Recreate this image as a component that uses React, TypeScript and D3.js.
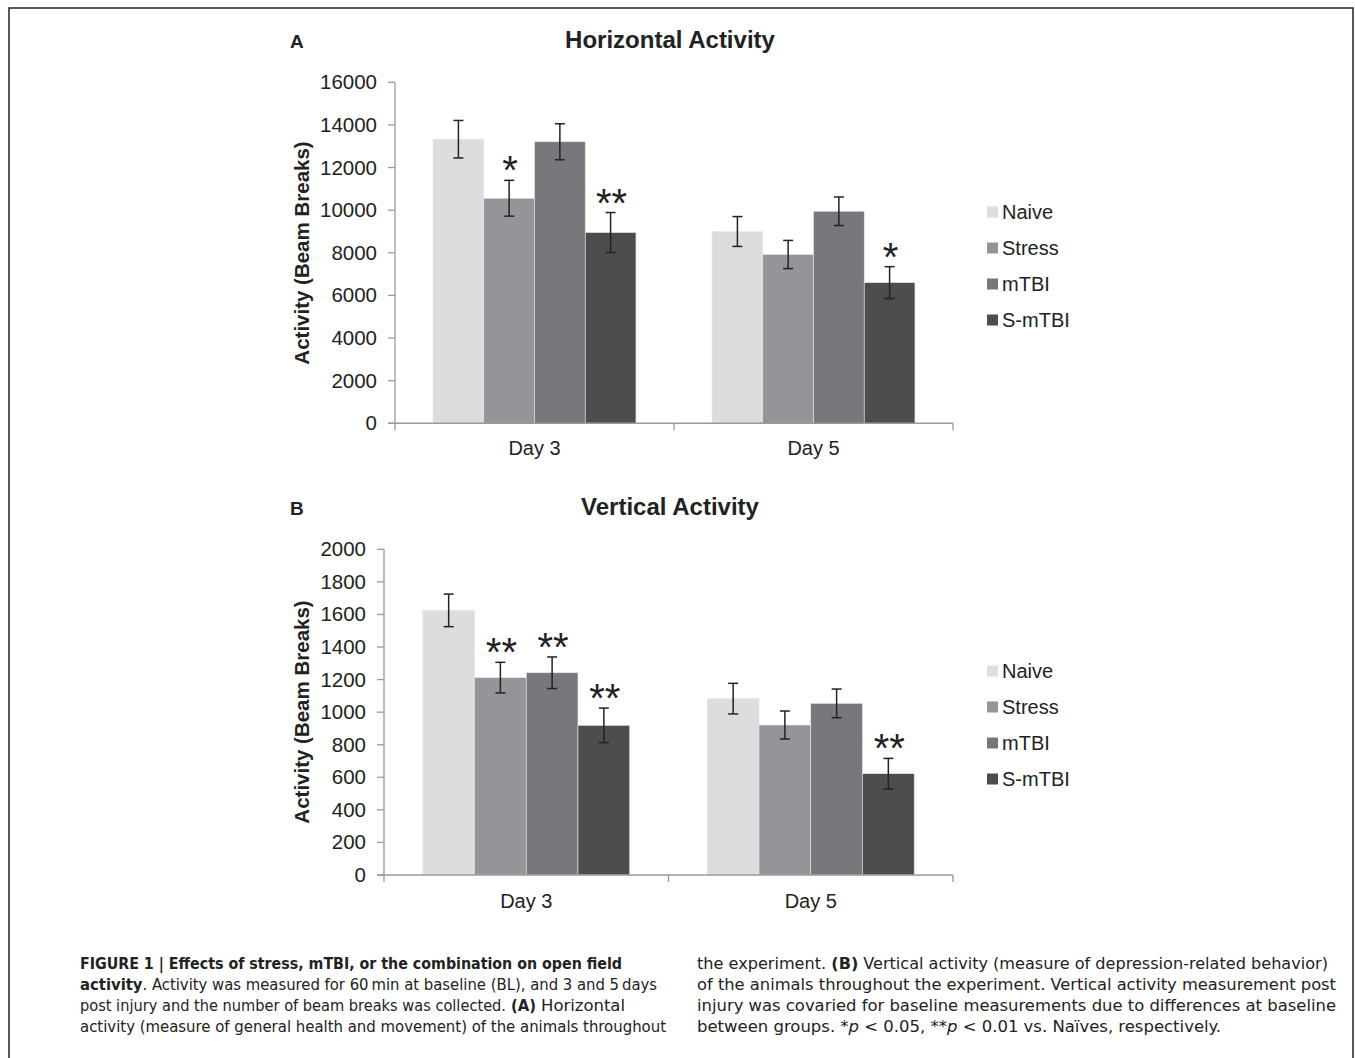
import React from 'react';
import * as d3 from 'd3';

// groups and days
const days = ['Day 3', 'Day 5'];
const groups = ['Naive', 'Stress', 'mTBI', 'S-mTBI'];
const groupColors = ['#dcdddf', '#939598', '#77787b', '#4c4d4f'];

// Horizontal activity (beam breaks), rows = days, cols = groups
const horizMeans = [
  [13330, 10560, 13210, 8950],
  [9000, 7920, 9950, 6600],
];
const horizErrs = [
  [880, 840, 845, 940],
  [700, 660, 670, 750],
];
const horizStars = [
  ['', '*', '', '**'],
  ['', '', '', '*'],
];
const horizTicks = [0, 2000, 4000, 6000, 8000, 10000, 12000, 14000, 16000];

// Vertical activity
const vertMeans = [
  [1625, 1212, 1242, 919],
  [1083, 921, 1054, 622],
];
const vertErrs = [
  [100, 94, 97, 106],
  [94, 86, 88, 94],
];
const vertStars = [
  ['', '**', '**', '**'],
  ['', '', '', '**'],
];
const vertTicks = [0, 200, 400, 600, 800, 1000, 1200, 1400, 1600, 1800, 2000];

const FONT = '"Liberation Sans", Arial, Helvetica, sans-serif';
const CAPFONT = '"Liberation Sans Narrow", "DejaVu Sans Condensed", "Liberation Sans", sans-serif';

function Panel({ letter, title, means, errs, stars, ticks, geo }) {
  const y = d3.scaleLinear().domain([0, ticks[ticks.length - 1]]).range([geo.y0, geo.yMax]);
  const xDay = d3.scaleBand().domain(days).range([geo.left, geo.right]).padding(0);
  const xGroup = d3.scaleBand().domain(groups).range([0, xDay.bandwidth()])
    .paddingInner(0).paddingOuter(0.75);
  const color = d3.scaleOrdinal().domain(groups).range(groupColors);
  const axisColor = '#9a9a9a';
  const cap = 5;

  return (
    <g>
      <text x={290} y={geo.titleY} fontFamily={FONT} fontWeight="bold" fontSize={19} fill="#222">{letter}</text>
      <text x={670} y={geo.titleY} textAnchor="middle" fontFamily={FONT} fontWeight="bold" fontSize={24} fill="#222">{title}</text>

      {/* y label */}
      <text transform={`translate(309,${geo.labelCy}) rotate(-90)`} textAnchor="middle"
        fontFamily={FONT} fontWeight="bold" fontSize={20.5} fill="#222">Activity (Beam Breaks)</text>

      {/* bars */}
      {days.map((day, di) => (
        <g key={day} transform={`translate(${xDay(day)},0)`}>
          {groups.map((g, gi) => {
            const v = means[di][gi];
            const e = errs[di][gi];
            const cx = xGroup(g) + xGroup.bandwidth() / 2;
            return (
              <g key={g}>
                <rect x={xGroup(g)} y={y(v)} width={xGroup.bandwidth()} height={y(0) - y(v)}
                  fill={color(g)} stroke="#e6e6e6" strokeWidth={0.6} />
                <g stroke="#222" strokeWidth={1.5}>
                  <line x1={cx} x2={cx} y1={y(v + e)} y2={y(v - e)} />
                  <line x1={cx - cap} x2={cx + cap} y1={y(v + e)} y2={y(v + e)} />
                  <line x1={cx - cap} x2={cx + cap} y1={y(v - e)} y2={y(v - e)} />
                </g>
                {stars[di][gi] && (
                  <text x={cx + 1} y={y(v + e) + 4} textAnchor="middle" fontFamily={FONT}
                    fontSize={40} fill="#222">{stars[di][gi]}</text>
                )}
              </g>
            );
          })}
        </g>
      ))}

      {/* y axis */}
      <line x1={geo.left} x2={geo.left} y1={geo.yMax} y2={geo.y0} stroke={axisColor} strokeWidth={1.3} />
      {ticks.map(t => (
        <g key={t}>
          <line x1={geo.left - 7} x2={geo.left} y1={y(t)} y2={y(t)} stroke={axisColor} strokeWidth={1.3} />
          <text x={geo.left - 18} y={y(t) + 7} textAnchor="end" fontFamily={FONT} fontSize={20.5} fill="#222">{t}</text>
        </g>
      ))}

      {/* x axis */}
      <line x1={geo.left - 7} x2={geo.right} y1={geo.y0} y2={geo.y0} stroke={axisColor} strokeWidth={1.5} />
      {[geo.left, ...days.map(d => xDay(d) + xDay.bandwidth())].map((tx, i) => (
        <line key={i} x1={tx} x2={tx} y1={geo.y0} y2={geo.y0 + 7} stroke={axisColor} strokeWidth={1.3} />
      ))}
      {days.map(d => (
        <text key={d} x={xDay(d) + xDay.bandwidth() / 2} y={geo.dayY} textAnchor="middle"
          fontFamily={FONT} fontSize={20} fill="#222">{d}</text>
      ))}

      {/* legend */}
      {groups.map((g, gi) => (
        <g key={g} transform={`translate(987,${geo.legendY + gi * 36})`}>
          <rect x={0} y={-5.5} width={11} height={11} fill={color(g)} />
          <text x={15} y={7} fontFamily={FONT} fontSize={20} fill="#222">{g}</text>
        </g>
      ))}
    </g>
  );
}

// caption lines: each line is a list of segments placed on their own
const capLeft = [
  [{ x: 80, len: 542, parts: [{ t: 'FIGURE 1 | Effects of stress, mTBI, or the combination on open field', b: true }] }],
  [{ x: 80, len: 577, parts: [{ t: 'activity', b: true }, { t: '. Activity was measured for 60\u2009min at baseline (BL), and 3 and 5\u2009days' }] }],
  [
    { x: 80, len: 426, parts: [{ t: 'post injury and the number of beam breaks was collected.' }] },
    { x: 511, len: 25, parts: [{ t: '(A)', b: true }] },
    { x: 541, len: 84, parts: [{ t: 'Horizontal' }] },
  ],
  [{ x: 80, len: 586, parts: [{ t: 'activity (measure of general health and movement) of the animals throughout' }] }],
];
const capRight = [
  [{ x: 697, len: 631, parts: [{ t: 'the experiment. ' }, { t: '(B)', b: true }, { t: ' Vertical activity (measure of depression-related behavior)' }] }],
  [{ x: 697, len: 639, parts: [{ t: 'of the animals throughout the experiment. Vertical activity measurement post' }] }],
  [{ x: 697, len: 639, parts: [{ t: 'injury was covaried for baseline measurements due to differences at baseline' }] }],
  [{ x: 697, len: 524, parts: [{ t: 'between groups. *' }, { t: 'p', i: true }, { t: ' < 0.05, **' }, { t: 'p', i: true }, { t: ' < 0.01 vs. Na\u00efves, respectively.' }] }],
];

function Caption({ lines }) {
  return (
    <g fontFamily={CAPFONT} fontSize={16} fill="#222">
      {lines.map((segs, i) => segs.map((s, k) => (
        <text key={`${i}-${k}`} x={s.x} y={969 + i * 21} textLength={s.len} lengthAdjust="spacingAndGlyphs">
          {s.parts.map((p, j) => (
            <tspan key={j} fontWeight={p.b ? 'bold' : 'normal'} fontStyle={p.i ? 'italic' : 'normal'}>{p.t}</tspan>
          ))}
        </text>
      )))}
    </g>
  );
}

export default function App() {
  const geoA = { left: 395, right: 953, y0: 423.3, yMax: 82.3, titleY: 48, labelCy: 253, dayY: 455, legendY: 212 };
  const geoB = { left: 384, right: 953, y0: 875, yMax: 549.3, titleY: 515, labelCy: 712, dayY: 908, legendY: 671 };
  return (
    <div style={{ position: 'absolute', left: 0, top: 0 }}>
      <svg width={1355} height={1058} style={{ display: 'block', background: '#fff' }}>
        <path d="M9,1058 V8 H1353 V1058" fill="none" stroke="#222" strokeWidth={1.5} />
        <Panel letter="A" title="Horizontal Activity" means={horizMeans} errs={horizErrs}
          stars={horizStars} ticks={horizTicks} geo={geoA} />
        <Panel letter="B" title="Vertical Activity" means={vertMeans} errs={vertErrs}
          stars={vertStars} ticks={vertTicks} geo={geoB} />
        <Caption lines={capLeft} />
        <Caption lines={capRight} />
      </svg>
    </div>
  );
}
